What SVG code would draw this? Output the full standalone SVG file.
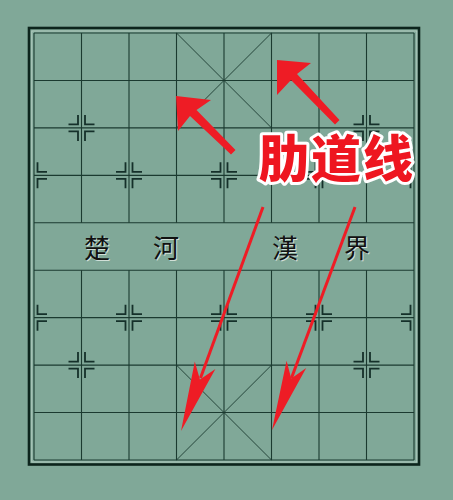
<svg xmlns="http://www.w3.org/2000/svg" width="453" height="500" viewBox="0 0 453 500">
<style>
.grid{stroke:#1b3a30;stroke-width:1.1;fill:none}
.mk{stroke:#15302a;stroke-width:1.8;fill:none}
.river{font-family:"Noto Sans CJK TC","Noto Sans CJK SC",sans-serif;font-size:26px;fill:#111;text-anchor:middle}
.rshadow{fill:#e6efe9;opacity:0.8}
.arrow{fill:#ee1c25}
.label{font-family:"Noto Sans CJK SC",sans-serif;font-size:50px;font-weight:900;fill:#ee1620;stroke:#ffffff;stroke-width:6;stroke-linejoin:round;paint-order:stroke;letter-spacing:2px}
</style>
<defs>
<g id="mkL"><path d="M-13,-3.5H-3.5V-13M-13,3.5H-3.5V13"/></g>
<g id="mkR"><path d="M13,-3.5H3.5V-13M13,3.5H3.5V13"/></g>
<g id="mk"><use href="#mkL"/><use href="#mkR"/></g>
</defs>
<rect width="453" height="500" fill="#80a898"/>
<g id="board">
<rect x="29" y="28" width="390" height="436.5" fill="none" stroke="#0c241c" stroke-width="2.6"/>
<rect x="31.8" y="31" width="385" height="431" fill="none" stroke="#c9ddd3" stroke-width="1" opacity="0.7"/>
<g class="grid">
<path d="M34,33H414M34,80.44H414M34,127.89H414M34,175.33H414M34,222.78H414M34,270.22H414M34,317.67H414M34,365.11H414M34,412.56H414M34,460H414"/>
<path d="M34,33V460M414,33V460"/>
<path d="M81.5,33V222.78M129,33V222.78M176.5,33V222.78M224,33V222.78M271.5,33V222.78M319,33V222.78M366.5,33V222.78"/>
<path d="M81.5,270.22V460M129,270.22V460M176.5,270.22V460M224,270.22V460M271.5,270.22V460M319,270.22V460M366.5,270.22V460"/>
<path d="M176.5,33L271.5,127.89M271.5,33L176.5,127.89M176.5,365.11L271.5,460M271.5,365.11L176.5,460" stroke-width="0.9"/>
</g>
</g>
<g id="markers" class="mk">
<use href="#mk" x="81.5" y="127.89"/>
<use href="#mk" x="366.5" y="127.89"/>
<use href="#mk" x="81.5" y="365.11"/>
<use href="#mk" x="366.5" y="365.11"/>
<use href="#mkR" x="34" y="175.33"/>
<use href="#mk" x="129" y="175.33"/>
<use href="#mk" x="224" y="175.33"/>
<use href="#mk" x="319" y="175.33"/>
<use href="#mkL" x="414" y="175.33"/>
<use href="#mkR" x="34" y="317.67"/>
<use href="#mk" x="129" y="317.67"/>
<use href="#mk" x="224" y="317.67"/>
<use href="#mk" x="319" y="317.67"/>
<use href="#mkL" x="414" y="317.67"/>
</g>
<g id="river-text">
<g class="river rshadow" transform="translate(1,1)">
<text x="97" y="258">楚</text><text x="166" y="258">河</text><text x="285" y="258">漢</text><text x="357" y="258">界</text>
</g>
<g class="river">
<text x="97" y="258">楚</text><text x="166" y="258">河</text><text x="285" y="258">漢</text><text x="357" y="258">界</text>
</g>
</g>
<g id="connectors">
<polygon class="arrow" points="176,96 211,100 196.5,110 235.5,150 231,154.5 190,116 178,131"/>
<polygon class="arrow" points="277,60 311,63 297,74 339.5,120 335,124.5 291,80 277,95"/>
<line x1="263" y1="207" x2="200.5" y2="378" stroke="#ee1c25" stroke-width="3"/>
<polygon class="arrow" points="181,431 194.8,361.5 199.9,379.4 215.4,369.1"/>
<line x1="355" y1="207" x2="291.5" y2="378" stroke="#ee1c25" stroke-width="3"/>
<polygon class="arrow" points="272,430 286.6,360.7 291.2,378.5 306.2,368.1"/>
</g>
<g id="label">
<text class="label" x="259" y="176.5">肋道线</text>
</g>
</svg>
